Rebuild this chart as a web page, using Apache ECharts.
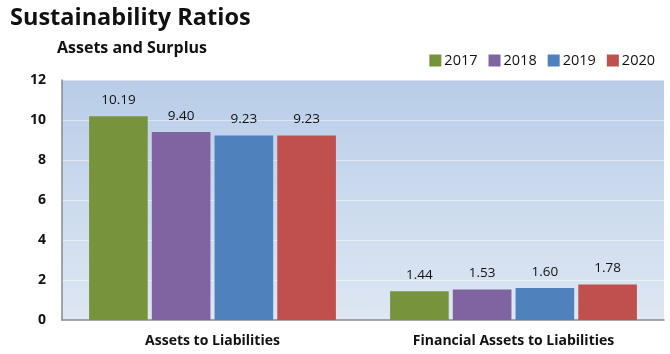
<!DOCTYPE html>
<html><head><meta charset="utf-8">
<script src="https://cdn.jsdelivr.net/npm/echarts@6/dist/echarts.min.js"></script>
<style>html,body{margin:0;padding:0;background:#fff}#c{width:670px;height:354px}</style>
</head><body><div id="c"></div>
<script>
const categories = ['Assets to Liabilities', 'Financial Assets to Liabilities'];
const years = ['2017', '2018', '2019', '2020'];
const v2017 = [10.19, 1.44];
const v2018 = [9.40, 1.53];
const v2019 = [9.23, 1.60];
const v2020 = [9.23, 1.78];
const yTicks = [0, 2, 4, 6, 8, 10, 12];
const colors = ['#77933c', '#8064a2', '#4f81bd', '#c0504d'];
const values = [v2017, v2018, v2019, v2020];
const font = '"Open Sans", "Liberation Sans", sans-serif';
const chart = echarts.init(document.getElementById('c'));
chart.setOption({
  animation: false,
  color: colors,
  title: [
    {text: 'Sustainability Ratios', left: 5, top: 1,
     textStyle: {fontFamily: font, fontSize: 23.5, fontWeight: 'bold', color: '#111'}},
    {text: 'Assets and Surplus', left: 52, top: 35,
     textStyle: {fontFamily: font, fontSize: 16, fontWeight: 'bold', color: '#111'}}
  ],
  legend: {
    data: years, right: 10, top: 48, itemWidth: 12, itemHeight: 12, itemGap: 11,
    icon: 'rect',
    textStyle: {fontFamily: font, fontSize: 14.5, color: '#111', padding: [0, 0, 0, -2]}
  },
  grid: {left: 62, right: 6, top: 80, bottom: 34,
    show: true, borderWidth: 0,
    backgroundColor: {type: 'linear', x: 0, y: 0, x2: 0, y2: 1,
      colorStops: [{offset: 0, color: '#b9cde8'}, {offset: 1, color: '#dee7f3'}]}},
  xAxis: {
    type: 'category', data: categories,
    axisLine: {lineStyle: {color: '#8a8a8a', width: 1.5}},
    axisTick: {show: false},
    axisLabel: {fontFamily: font, fontSize: 14, fontWeight: 'bold', color: '#111', margin: 14}
  },
  yAxis: {
    type: 'value', min: yTicks[0], max: yTicks[yTicks.length - 1], interval: 2,
    axisLine: {show: true, lineStyle: {color: '#8a8a8a', width: 1.5}},
    axisTick: {show: false},
    splitLine: {lineStyle: {color: 'rgba(255,255,255,0.45)', width: 1}},
    axisLabel: {fontFamily: font, fontSize: 14, fontWeight: 'bold', color: '#111', margin: 16}
  },
  series: years.map((y, i) => ({
    name: y, type: 'bar', data: values[i],
    barGap: '7%', barCategoryGap: '18%',
    label: {show: true, position: 'top', distance: 9, formatter: p => p.value.toFixed(2),
      fontFamily: font, fontSize: 13.5, color: '#111'}
  }))
});
</script></body></html>
